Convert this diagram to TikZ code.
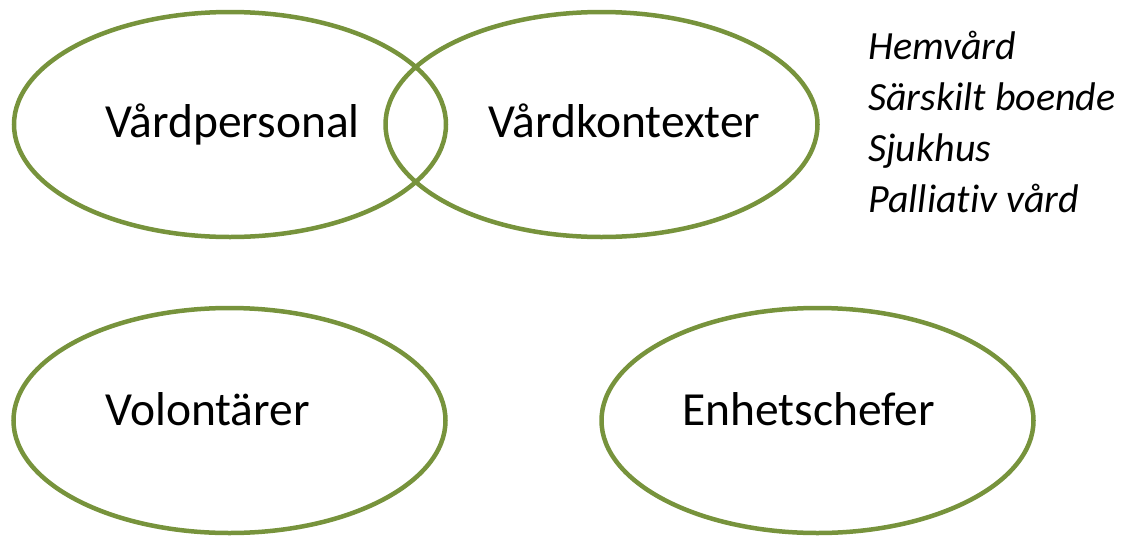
\documentclass[tikz,border=0pt]{standalone}
\usepackage{fontspec}
\setmainfont{Carlito}[Ligatures=NoCommon]
\usetikzlibrary{shapes.geometric}
\definecolor{leafgreen}{RGB}{119,147,60}
\begin{document}
\begin{tikzpicture}[x=1pt,y=-1pt,
  ring/.style={ellipse,draw=leafgreen,line width=4.5pt,minimum width=432pt,minimum height=225pt,inner sep=0pt},
  word/.style={anchor=base west,inner sep=0pt,font=\fontsize{47.5}{57}\selectfont},
  item/.style={anchor=base west,inner sep=0pt,font=\fontsize{40}{48}\selectfont\itshape}]
  \useasboundingbox (0,0) rectangle (1132,536);
  \node[ring] (staff)   at (230,124.5) {};
  \node[ring] (context) at (601.5,124.5) {};
  \node[ring] (vol)     at (229.5,420.5) {};
  \node[ring] (mgr)     at (817.5,420.5) {};
  \node[word] (stafftxt)   at (105,137) {Vårdpersonal};
  \node[word] (contexttxt) at (488,137) {Vårdkontexter};
  \node[word] (voltxt)     at (105,425) {Volontärer};
  \node[word] (mgrtxt)     at (682,425) {Enhetschefer};
  \foreach \t [count=\i] in {Hemvård,Särskilt boende,Sjukhus,Palliativ vård}
    \node[item] (ctx\i) at (868,8+51*\i) {\t};
\end{tikzpicture}
\end{document}
